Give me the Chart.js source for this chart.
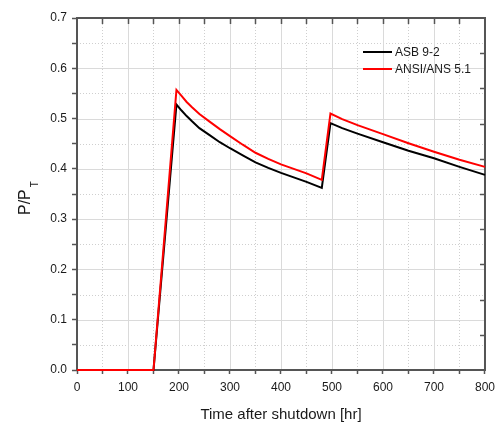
<!DOCTYPE html>
<html><head><meta charset="utf-8">
<script src="https://cdn.jsdelivr.net/npm/chart.js@4.4.1/dist/chart.umd.min.js"></script>
<style>html,body{margin:0;padding:0;background:#fff;}canvas{display:block;}</style>
</head><body>
<canvas id="c" width="501" height="426"></canvas>
<script>
// ---- data ----
const timeHr  = [0, 150, 195, 205, 215, 225, 240, 260, 280, 300, 325, 350, 375, 400, 425, 450, 480, 497, 520, 550, 600, 650, 700, 750, 800];
const asb92   = [0, 0, 0.528, 0.516, 0.505, 0.495, 0.481, 0.467, 0.453, 0.441, 0.427, 0.413, 0.402, 0.392, 0.383, 0.374, 0.362, 0.491, 0.481, 0.470, 0.453, 0.436, 0.421, 0.404, 0.388];
const ansi51  = [0, 0, 0.557, 0.545, 0.533, 0.523, 0.509, 0.494, 0.479, 0.465, 0.448, 0.432, 0.420, 0.409, 0.400, 0.391, 0.378, 0.510, 0.499, 0.487, 0.469, 0.451, 0.434, 0.418, 0.404];
const seriesNames = ['ASB 9-2', 'ANSI/ANS 5.1'];
const seriesColors = ['#000000', '#ff0000'];
const xMin = 0, xMax = 800, xMajor = 100, xMinor = 50;
const yMin = 0, yMax = 0.7, yMajor = 0.1, yMinor = 0.05;
const xTitle = 'Time after shutdown [hr]';
const yTitleMain = 'P/P', yTitleSub = 'T';

const FONT = '"Liberation Sans", Arial, sans-serif';
const AXIS_COLOR = '#555555';

const toXY = (xs, ys) => xs.map((x, i) => ({x: x, y: ys[i]}));

const gridPlugin = {
  id: 'gridPlugin',
  beforeDatasetsDraw(chart) {
    const {ctx, chartArea: a, scales: {x, y}} = chart;
    ctx.save();
    ctx.lineWidth = 1;
    ctx.strokeStyle = '#cfcfcf';
    ctx.setLineDash([1, 2]);
    for (let v = xMin + xMinor; v < xMax; v += xMajor) {
      const px = Math.round(x.getPixelForValue(v)) + 0.5;
      ctx.beginPath(); ctx.moveTo(px, a.top); ctx.lineTo(px, a.bottom); ctx.stroke();
    }
    for (let k = 1; k < 14; k += 2) {
      const py = Math.round(y.getPixelForValue(k * yMinor)) + 0.5;
      ctx.beginPath(); ctx.moveTo(a.left, py); ctx.lineTo(a.right, py); ctx.stroke();
    }
    ctx.setLineDash([]);
    ctx.strokeStyle = '#dadada';
    for (let v = xMin + xMajor; v < xMax; v += xMajor) {
      const px = Math.round(x.getPixelForValue(v)) + 0.5;
      ctx.beginPath(); ctx.moveTo(px, a.top); ctx.lineTo(px, a.bottom); ctx.stroke();
    }
    for (let k = 1; k < 7; k++) {
      const py = Math.round(y.getPixelForValue(k * yMajor)) + 0.5;
      ctx.beginPath(); ctx.moveTo(a.left, py); ctx.lineTo(a.right, py); ctx.stroke();
    }
    ctx.strokeStyle = AXIS_COLOR;
    ctx.lineWidth = 2;
    ctx.strokeRect(a.left, a.top, a.right - a.left, a.bottom - a.top);
    ctx.lineWidth = 1.5;
    for (let v = xMin + xMinor; v < xMax; v += xMinor) {
      const px = Math.round(x.getPixelForValue(v)) + 0.5;
      ctx.beginPath(); ctx.moveTo(px, a.top); ctx.lineTo(px, a.top + 6); ctx.stroke();
    }
    for (let k = 1; k < 10; k++) {
      const py = Math.round(y.getPixelForValue(yMin + k * (yMax - yMin) / 10)) + 0.5;
      ctx.beginPath(); ctx.moveTo(a.right, py); ctx.lineTo(a.right - 5, py); ctx.stroke();
    }
    ctx.restore();
  },
  afterDraw(chart) {
    const {ctx, chartArea: a} = chart;
    ctx.save();
    ctx.fillStyle = '#1a1a1a';
    ctx.font = '15px ' + FONT;
    ctx.textAlign = 'center';
    ctx.textBaseline = 'alphabetic';
    ctx.fillText(xTitle, (a.left + a.right) / 2, 419);
    ctx.translate(30, 215);
    ctx.rotate(-Math.PI / 2);
    ctx.font = '16px ' + FONT;
    ctx.textAlign = 'left';
    ctx.fillText(yTitleMain, 0, 0);
    const w = ctx.measureText(yTitleMain).width;
    ctx.font = '10px ' + FONT;
    ctx.fillText(yTitleSub, w + 2, 8);
    ctx.restore();
    ctx.save();
    ctx.font = '12px ' + FONT;
    ctx.textAlign = 'left';
    ctx.textBaseline = 'middle';
    const ly = [52, 69];
    seriesNames.forEach((n, i) => {
      ctx.strokeStyle = seriesColors[i];
      ctx.lineWidth = 2;
      ctx.beginPath(); ctx.moveTo(363, ly[i]); ctx.lineTo(392, ly[i]); ctx.stroke();
      ctx.fillStyle = '#1a1a1a';
      ctx.fillText(n, 395, ly[i] + 1);
    });
    ctx.restore();
  }
};

new Chart(document.getElementById('c'), {
  type: 'line',
  data: {
    datasets: [
      {label: seriesNames[0], data: toXY(timeHr, asb92), borderColor: seriesColors[0], borderWidth: 2, pointRadius: 0, tension: 0, fill: false, clip: false, order: 2},
      {label: seriesNames[1], data: toXY(timeHr, ansi51), borderColor: seriesColors[1], borderWidth: 2, pointRadius: 0, tension: 0, fill: false, clip: false, order: 1}
    ]
  },
  options: {
    responsive: false,
    animation: false,
    events: [],
    layout: {padding: {left: 0, top: 18, right: 13, bottom: 0}},
    plugins: {legend: {display: false}, tooltip: {enabled: false}},
    scales: {
      x: {
        type: 'linear', min: xMin, max: xMax,
        afterFit(s) { s.height = 56; },
        border: {display: false},
        grid: {drawOnChartArea: false, drawTicks: true, tickLength: 4, tickColor: AXIS_COLOR, tickWidth: 1.5},
        ticks: {
          stepSize: xMinor, autoSkip: false, maxRotation: 0, padding: 6,
          color: '#1a1a1a', font: {family: FONT, size: 12},
          callback: v => (Math.round(v) % xMajor === 0 ? String(Math.round(v)) : '')
        }
      },
      y: {
        type: 'linear', min: yMin, max: yMax,
        afterFit(s) { s.width = 77; },
        border: {display: false},
        grid: {drawOnChartArea: false, drawTicks: true, tickLength: 5, tickColor: AXIS_COLOR, tickWidth: 1.5},
        ticks: {
          stepSize: yMinor, autoSkip: false, padding: 5,
          color: '#1a1a1a', font: {family: FONT, size: 12},
          callback: v => (Math.round(v * 100) % 10 === 0 ? v.toFixed(1) : '')
        }
      }
    }
  },
  plugins: [gridPlugin]
});
</script>
</body></html>
